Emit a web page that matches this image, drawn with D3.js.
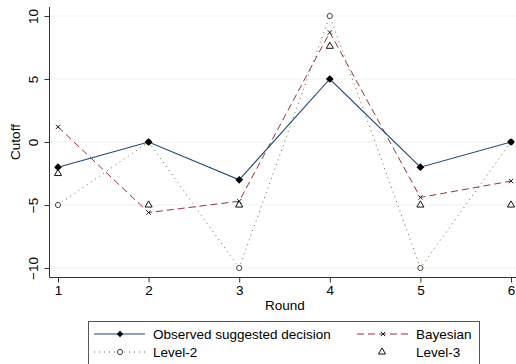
<!DOCTYPE html>
<html>
<head>
<meta charset="utf-8">
<script src="https://cdn.jsdelivr.net/npm/d3@7"></script>
<style>
  body { margin: 0; background: #fff; }
  text { font-family: "Liberation Sans", Arial, sans-serif; fill: #000; }
</style>
</head>
<body>
<div id="chart"></div>
<script>
// data
const rounds = [1, 2, 3, 4, 5, 6];
const observed = [-2, 0, -3, 5, -2, 0];
const bayesian = [1.2, -5.6, -4.7, 8.7, -4.4, -3.1];
const level2 = [-5, 0, -10, 10, -10, 0];
const level3 = [-2.5, -5, -5, 7.6, -5, -5];
const yTicks = [-10, -5, 0, 5, 10];

const width = 516, height = 364;
const fs = "13.5px";

const svg = d3.select("#chart").append("svg")
  .attr("width", width)
  .attr("height", height);

let x = d3.scaleLinear().domain([1, 6]).range([58, 511]);
let y = d3.scaleLinear().domain([-10, 10]).range([268, 16]);

const axisX0 = 49.5, axisY0 = 277.5;

// gridlines
svg.append("g").selectAll("line").data(yTicks).enter().append("line")
  .attr("x1", axisX0).attr("x2", width)
  .attr("y1", d => y(d)).attr("y2", d => y(d))
  .attr("stroke", "#eaf2f3").attr("stroke-width", 1);

// y axis
let yAxis = svg.append("g")
  .attr("transform", "translate(" + axisX0 + ",0)")
  .call(d3.axisLeft(y).tickValues(yTicks).tickSize(5).tickPadding(3));
yAxis.select(".domain").attr("d", "M0,7V" + axisY0).attr("stroke", "#333");
yAxis.selectAll(".tick line").attr("stroke", "#333");
yAxis.selectAll(".tick text")
  .attr("transform", "rotate(-90)")
  .attr("x", 0).attr("y", -12)
  .attr("dy", "0")
  .attr("text-anchor", "middle")
  .style("font-size", fs);

// x axis
let xAxis = svg.append("g")
  .attr("transform", "translate(0," + axisY0 + ")")
  .call(d3.axisBottom(x).tickValues(rounds).tickFormat(d3.format("d")).tickSize(5).tickPadding(3));
xAxis.select(".domain").attr("d", "M" + axisX0 + ",0H" + width).attr("stroke", "#333");
xAxis.selectAll(".tick line").attr("stroke", "#333");
xAxis.selectAll(".tick text").style("font-size", fs);

svg.append("text")
  .attr("x", 285).attr("y", 310)
  .attr("text-anchor", "middle")
  .style("font-size", fs)
  .text("Round");

svg.append("text")
  .attr("transform", "translate(20," + y(0) + ") rotate(-90)")
  .attr("text-anchor", "middle")
  .style("font-size", fs)
  .text("Cutoff");

let line = d3.line().x((d, i) => x(rounds[i])).y(d => y(d));

const colObs = "#1a476f", colBay = "#90353b", colL2 = "#55752f";

// lines
svg.append("path").datum(level2).attr("d", line)
  .attr("fill", "none").attr("stroke", colL2).attr("stroke-width", 1)
  .attr("stroke-dasharray", "1,4");
svg.append("path").datum(bayesian).attr("d", line)
  .attr("fill", "none").attr("stroke", colBay).attr("stroke-width", 1)
  .attr("stroke-dasharray", "7,4");
svg.append("path").datum(observed).attr("d", line)
  .attr("fill", "none").attr("stroke", colObs).attr("stroke-width", 1.1);

// markers
const diamond = d3.symbol().type(d3.symbolSquare).size(20);
const triangle = d3.symbol().type(d3.symbolTriangle).size(22);
const cross = d3.symbol().type(d3.symbolX).size(14);

function drawMarkers(vals, sym, fill, stroke, rot) {
  svg.append("g").selectAll("path").data(vals).enter().append("path")
    .attr("transform", (d, i) => "translate(" + x(rounds[i]) + "," + y(d) + ") rotate(" + (rot || 0) + ")")
    .attr("d", sym)
    .attr("fill", fill).attr("stroke", stroke).attr("stroke-width", 1);
}
drawMarkers(level3, triangle, "#fff", "#111");
drawMarkers(bayesian, cross, "none", "#222");
svg.append("g").selectAll("circle").data(level2).enter().append("circle")
  .attr("cx", (d, i) => x(rounds[i])).attr("cy", d => y(d))
  .attr("r", 2.6).attr("fill", "#fff").attr("stroke", "#444").attr("stroke-width", 1);
drawMarkers(observed, diamond, "#000", "#000", 45);

// legend
let legend = svg.append("g");
legend.append("rect")
  .attr("x", 88.5).attr("y", 321.5).attr("width", 391).attr("height", 50)
  .attr("fill", "#fff").attr("stroke", "#555").attr("stroke-width", 1);

const row1 = 334, row2 = 352;
legend.append("line").attr("x1", 94).attr("x2", 145).attr("y1", row1).attr("y2", row1)
  .attr("stroke", colObs).attr("stroke-width", 1.1);
legend.append("path").attr("transform", "translate(120," + row1 + ") rotate(45)").attr("d", diamond).attr("fill", "#000");
legend.append("text").attr("x", 153).attr("y", row1 + 5).style("font-size", fs).text("Observed suggested decision");

legend.append("line").attr("x1", 357).attr("x2", 408).attr("y1", row1).attr("y2", row1)
  .attr("stroke", colBay).attr("stroke-width", 1).attr("stroke-dasharray", "7,4");
legend.append("path").attr("transform", "translate(383," + row1 + ")").attr("d", cross).attr("stroke", "#222").attr("fill", "none");
legend.append("text").attr("x", 416).attr("y", row1 + 5).style("font-size", fs).text("Bayesian");

legend.append("line").attr("x1", 94).attr("x2", 145).attr("y1", row2).attr("y2", row2)
  .attr("stroke", colL2).attr("stroke-width", 1).attr("stroke-dasharray", "1,4");
legend.append("circle").attr("cx", 120).attr("cy", row2).attr("r", 2.6)
  .attr("fill", "#fff").attr("stroke", "#444");
legend.append("text").attr("x", 153).attr("y", row2 + 5).style("font-size", fs).text("Level-2");

legend.append("path").attr("transform", "translate(382," + row2 + ")").attr("d", triangle)
  .attr("fill", "#fff").attr("stroke", "#111");
legend.append("text").attr("x", 416).attr("y", row2 + 5).style("font-size", fs).text("Level-3");
</script>
</body>
</html>
